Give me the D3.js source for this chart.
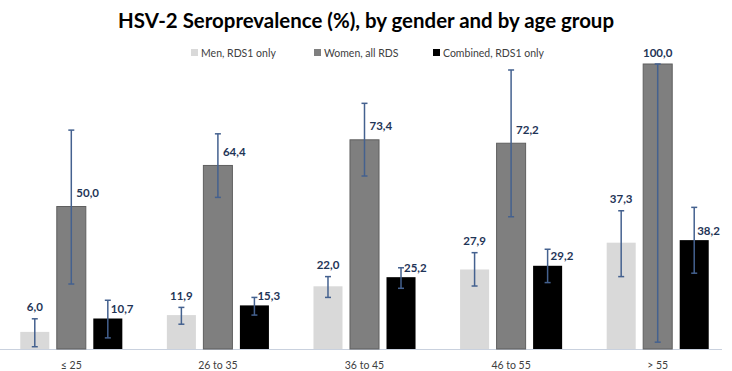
<!DOCTYPE html>
<html>
<head>
<meta charset="utf-8">
<script src="https://cdn.jsdelivr.net/npm/d3@7"></script>
<style>
  body { margin: 0; background: #fff; }
  svg { display: block; font-family: Lato, "Open Sans", sans-serif; }
</style>
</head>
<body>
<div id="chart"></div>
<script>
// Chart data
const ageGroups = ["\u2264 25", "26 to 35", "36 to 45", "46 to 55", "> 55"];
const seriesNames = ["Men, RDS1 only", "Women, all RDS", "Combined, RDS1 only"];
const menValues      = [6.0, 11.9, 22.0, 27.9, 37.3];
const womenValues    = [50.0, 64.4, 73.4, 72.2, 100.0];
const combinedValues = [10.7, 15.3, 25.2, 29.2, 38.2];
// 95% CI bounds (lower / upper)
const menLow       = [0.8, 8.7, 18.1, 22.1, 25.4];
const menHigh      = [10.6, 14.6, 25.4, 33.8, 48.5];
const womenLow     = [22.8, 53.2, 60.7, 46.4, 2.4];
const womenHigh    = [76.8, 75.5, 86.2, 97.9, 100.0];
const combinedLow  = [3.9, 11.9, 21.3, 23.3, 26.6];
const combinedHigh = [17.1, 18.1, 28.5, 35.0, 49.7];

const W = 732, H = 371;
const colors = ["#d9d9d9", "#7f7f7f", "#000000"];
const strokes = ["#d9d9d9", "#5f5f5f", "#000000"];
const errColor = "#44618f";
const labelColor = "#1f3557";

const svg = d3.select("#chart").append("svg")
  .attr("width", W)
  .attr("height", H);

// Scales
const x0 = d3.scaleBand().domain(ageGroups).range([-2, 731]);
const x1 = d3.scaleBand().domain(seriesNames)
  .range([0, x0.bandwidth()])
  .paddingInner(0.205)
  .paddingOuter(0.61);
const y = d3.scaleLinear().domain([0, 100]).range([349, 64]);

// Build rows for drawing
const valueSets = [menValues, womenValues, combinedValues];
const lowSets = [menLow, womenLow, combinedLow];
const highSets = [menHigh, womenHigh, combinedHigh];
const rows = [];
ageGroups.forEach((g, gi) => {
  seriesNames.forEach((s, si) => {
    rows.push({group: g, series: s, si: si, value: valueSets[si][gi], low: lowSets[si][gi], high: highSets[si][gi]});
  });
});
const cx = d => x0(d.group) + x1(d.series) + x1.bandwidth() / 2;

// Title
svg.append("text")
  .attr("x", W / 2)
  .attr("y", 28)
  .attr("text-anchor", "middle")
  .attr("font-size", 21)
  .attr("font-weight", "bold")
  .attr("fill", "#000")
  .attr("textLength", 496)
  .attr("lengthAdjust", "spacingAndGlyphs")
  .text("HSV-2 Seroprevalence (%), by gender and by age group");

// Legend
const legendX = [191, 314, 433];
const legend = svg.append("g").attr("class", "legend");
seriesNames.forEach((s, i) => {
  const lg = legend.append("g").attr("transform", `translate(${legendX[i]},53)`);
  lg.append("rect")
    .attr("x", 0).attr("y", -4)
    .attr("width", 7).attr("height", 7)
    .attr("fill", colors[i]);
  lg.append("text")
    .attr("x", 10).attr("y", 0)
    .attr("dominant-baseline", "central")
    .attr("font-size", 10.5)
    .attr("fill", "#404040")
    .text(s);
});

// Axis baseline
svg.append("line")
  .attr("x1", 0).attr("x2", 722)
  .attr("y1", y(0) + 0.5).attr("y2", y(0) + 0.5)
  .attr("stroke", "#c9d1de")
  .attr("stroke-width", 1);

// Bars
svg.append("g").selectAll("rect")
  .data(rows)
  .join("rect")
  .attr("x", d => x0(d.group) + x1(d.series))
  .attr("y", d => y(d.value))
  .attr("width", x1.bandwidth())
  .attr("height", d => y(0) - y(d.value))
  .attr("fill", d => colors[d.si])
  .attr("stroke", d => strokes[d.si])
  .attr("stroke-width", d => d.si === 1 ? 1 : 0);

// Error bars
const err = svg.append("g").attr("stroke", errColor).attr("stroke-width", 1.5);
rows.forEach(d => {
  const c = cx(d);
  err.append("line").attr("x1", c).attr("x2", c).attr("y1", y(d.high)).attr("y2", y(d.low));
  err.append("line").attr("x1", c - 3).attr("x2", c + 3).attr("y1", y(d.high)).attr("y2", y(d.high));
  err.append("line").attr("x1", c - 3).attr("x2", c + 3).attr("y1", y(d.low)).attr("y2", y(d.low));
});

// Value labels
const fmt = v => v.toFixed(1).replace(".", ",");
svg.append("g").selectAll("text")
  .data(rows)
  .join("text")
  .attr("font-size", 11.5)
  .attr("font-weight", "bold")
  .attr("fill", labelColor)
  .attr("dominant-baseline", "central")
  .each(function(d) {
    const t = d3.select(this);
    const c = cx(d);
    if (d.si === 0 || d.value >= 100) {
      // centred above the bar / error bar
      const top = d.value >= 100 ? y(d.value) : y(d.high);
      t.attr("x", c).attr("y", top - 12).attr("text-anchor", "middle");
    } else if (d.si === 1) {
      t.attr("x", c + 5).attr("y", y(d.value) - 14).attr("text-anchor", "start");
    } else {
      t.attr("x", c + 3).attr("y", y(d.value) - 10).attr("text-anchor", "start");
    }
  })
  .text(d => fmt(d.value));

// Category labels
svg.append("g").selectAll("text")
  .data(ageGroups)
  .join("text")
  .attr("x", d => x0(d) + x0.bandwidth() / 2)
  .attr("y", 365)
  .attr("text-anchor", "middle")
  .attr("dominant-baseline", "central")
  .attr("font-size", 10.5)
  .attr("fill", "#404040")
  .text(d => d);
</script>
</body>
</html>
